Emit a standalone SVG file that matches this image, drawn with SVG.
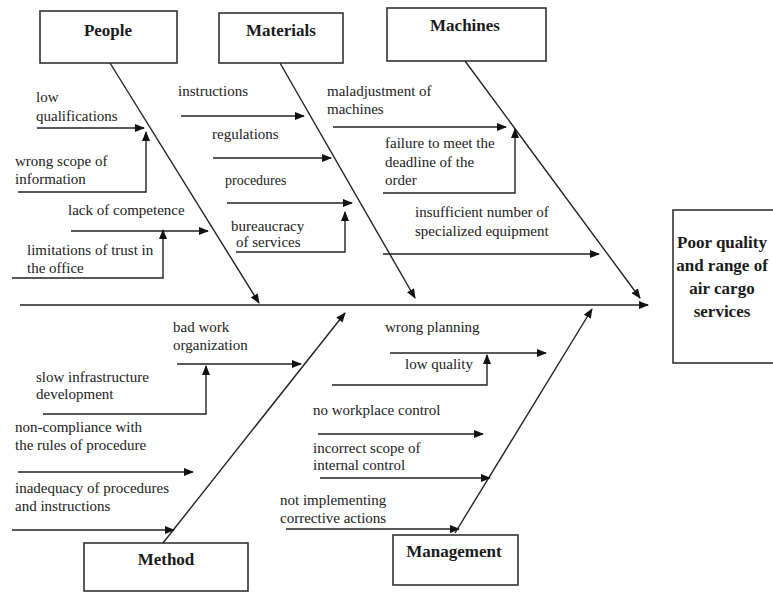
<svg xmlns="http://www.w3.org/2000/svg" width="773" height="592" viewBox="0 0 773 592">
<style>
.box{fill:#fff;stroke:#333;stroke-width:1.6}
.ttl{font-family:"Liberation Serif","Times New Roman",serif;font-weight:bold;font-size:17px;fill:#1a1a1a;text-anchor:middle}
.lbl{font-family:"Liberation Serif","Times New Roman",serif;font-size:15px;fill:#222}
.ln{fill:none;stroke:#222;stroke-width:1.4}
.ar{fill:none;stroke:#222;stroke-width:1.4;marker-end:url(#ah)}
</style>
<defs>
<marker id="ah" markerUnits="userSpaceOnUse" markerWidth="10" markerHeight="8" refX="9" refY="4" orient="auto">
<path d="M0,0 L10,4 L0,8 Z" fill="#111"/>
</marker>
</defs>
<rect width="773" height="592" fill="#fff"/>

<g id="people"><rect class="box" x="40" y="11" width="137" height="52"/><text class="ttl" x="108" y="36">People</text></g>
<g id="materials"><rect class="box" x="219" y="13" width="124" height="50"/><text class="ttl" x="281" y="36">Materials</text></g>
<g id="machines"><rect class="box" x="387" y="8" width="159" height="53"/><text class="ttl" x="465" y="31">Machines</text></g>
<g id="effect"><rect class="box" x="673" y="210" width="110" height="153"/>
<text class="ttl" x="722" y="248">Poor quality</text>
<text class="ttl" x="722" y="271">and range of</text>
<text class="ttl" x="722" y="294">air cargo</text>
<text class="ttl" x="722" y="317">services</text></g>
<g id="method"><rect class="box" x="84" y="543" width="164" height="48"/><text class="ttl" x="166" y="565">Method</text></g>
<g id="management"><rect class="box" x="393" y="535" width="125" height="50"/><text class="ttl" x="454" y="557">Management</text></g>

<g id="connectors">
<path class="ar" d="M20,305 H648"/>
<path class="ar" d="M110,63 L259,303"/>
<path class="ar" d="M280,63 L415,298"/>
<path class="ar" d="M465,61 L640,298"/>
<path class="ar" d="M163,543 L345,313"/>
<path class="ar" d="M455,533 L592,309"/>

<path class="ar" d="M37,128 H144"/>
<path class="ar" d="M18,192 H146 V132"/>
<path class="ar" d="M71,231 H208"/>
<path class="ar" d="M12,278 H163 V230"/>

<path class="ar" d="M181,116 H304"/>
<path class="ar" d="M213,158 H331"/>
<path class="ar" d="M227,203 H352"/>
<path class="ar" d="M236,252 H345 V212"/>

<path class="ar" d="M333,127 H506"/>
<path class="ar" d="M383,193 H515 V129"/>
<path class="ar" d="M383,254 H599"/>

<path class="ar" d="M177,364 H301"/>
<path class="ar" d="M43,414 H206 V366"/>
<path class="ar" d="M18,472 H193"/>
<path class="ar" d="M12,530 H174"/>

<path class="ar" d="M390,353 H546"/>
<path class="ar" d="M332,385 H487 V355"/>
<path class="ar" d="M318,434 H483"/>
<path class="ar" d="M320,478 H490"/>
<path class="ar" d="M286,529 H459"/>
</g>

<g id="labels">
<text class="lbl" x="36" y="102">low</text>
<text class="lbl" x="36" y="121">qualifications</text>
<text class="lbl" x="15" y="166">wrong scope of</text>
<text class="lbl" x="15" y="184">information</text>
<text class="lbl" x="68" y="215">lack of competence</text>
<text class="lbl" x="27" y="255">limitations of trust in</text>
<text class="lbl" x="27" y="273">the office</text>

<text class="lbl" x="178" y="96">instructions</text>
<text class="lbl" x="212" y="139">regulations</text>
<text class="lbl" x="225" y="185" style="font-size:14px">procedures</text>
<text class="lbl" x="231" y="231">bureaucracy</text>
<text class="lbl" x="236" y="247">of services</text>

<text class="lbl" x="327" y="96">maladjustment of</text>
<text class="lbl" x="327" y="114">machines</text>
<text class="lbl" x="385" y="148">failure to meet the</text>
<text class="lbl" x="385" y="167">deadline of the</text>
<text class="lbl" x="385" y="185">order</text>
<text class="lbl" x="415" y="217">insufficient number of</text>
<text class="lbl" x="415" y="236">specialized equipment</text>

<text class="lbl" x="173" y="332">bad work</text>
<text class="lbl" x="173" y="350">organization</text>
<text class="lbl" x="36" y="382">slow infrastructure</text>
<text class="lbl" x="36" y="399">development</text>
<text class="lbl" x="15" y="432">non-compliance with</text>
<text class="lbl" x="15" y="450">the rules of procedure</text>
<text class="lbl" x="15" y="493">inadequacy of procedures</text>
<text class="lbl" x="15" y="511">and instructions</text>

<text class="lbl" x="385" y="332">wrong planning</text>
<text class="lbl" x="405" y="369">low quality</text>
<text class="lbl" x="313" y="415">no workplace control</text>
<text class="lbl" x="313" y="453">incorrect scope of</text>
<text class="lbl" x="313" y="470">internal control</text>
<text class="lbl" x="280" y="505">not implementing</text>
<text class="lbl" x="280" y="523">corrective actions</text>
</g>
</svg>
